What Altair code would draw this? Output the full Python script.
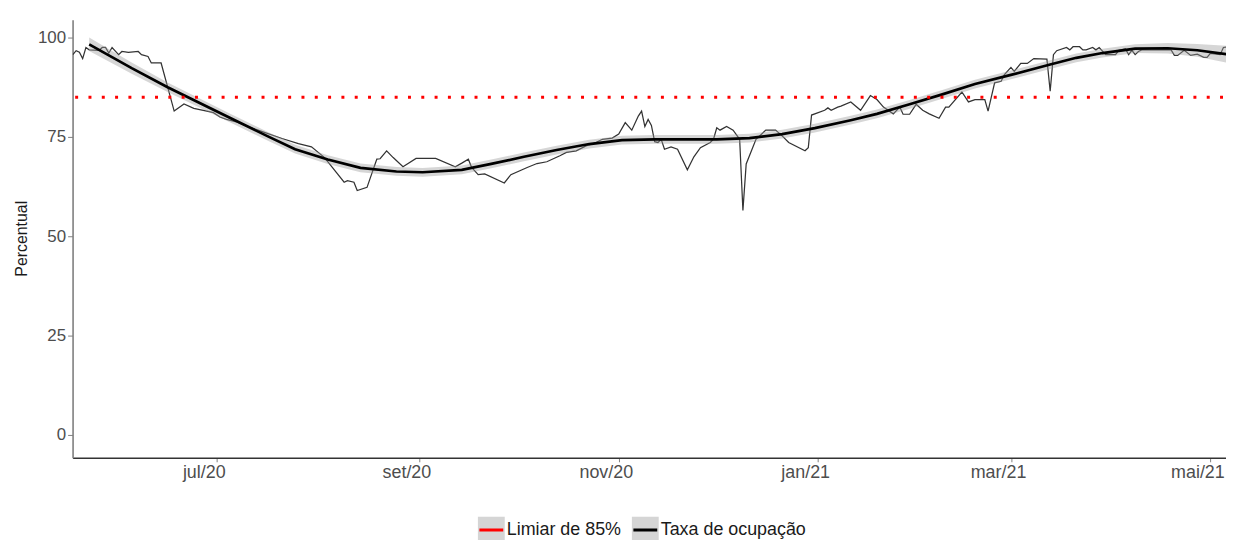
import altair as alt
import pandas as pd

# ---------------- data ----------------
month_names = ["jan", "fev", "mar", "abr", "mai", "jun", "jul", "ago", "set", "out", "nov", "dez"]
tick_dates = [(2020, 7), (2020, 9), (2020, 11), (2021, 1), (2021, 3), (2021, 5)]

raw_dates = [
    "2020-05-18", "2020-05-19", "2020-05-20", "2020-05-21", "2020-05-22", "2020-05-23",
    "2020-05-26", "2020-05-27", "2020-05-28", "2020-05-29", "2020-05-30", "2020-06-01",
    "2020-06-02", "2020-06-04", "2020-06-07", "2020-06-08", "2020-06-10", "2020-06-11",
    "2020-06-14", "2020-06-18", "2020-06-21", "2020-06-24", "2020-06-28", "2020-06-30",
    "2020-07-02", "2020-07-04", "2020-07-07", "2020-07-10", "2020-07-21", "2020-07-26",
    "2020-07-30", "2020-08-03", "2020-08-09", "2020-08-10", "2020-08-12", "2020-08-13",
    "2020-08-16", "2020-08-19", "2020-08-20", "2020-08-22", "2020-08-24", "2020-08-27",
    "2020-08-31", "2020-09-06", "2020-09-12", "2020-09-14", "2020-09-16", "2020-09-17",
    "2020-09-19", "2020-09-21", "2020-09-27", "2020-09-29", "2020-10-04", "2020-10-07",
    "2020-10-10", "2020-10-14", "2020-10-16", "2020-10-19", "2020-10-22", "2020-10-25",
    "2020-10-27", "2020-10-30", "2020-11-01", "2020-11-03", "2020-11-05", "2020-11-07",
    "2020-11-08", "2020-11-09", "2020-11-10", "2020-11-11", "2020-11-12", "2020-11-13",
    "2020-11-14", "2020-11-15", "2020-11-17", "2020-11-19", "2020-11-22", "2020-11-24",
    "2020-11-26", "2020-11-29", "2020-11-30", "2020-12-01", "2020-12-02", "2020-12-04",
    "2020-12-06", "2020-12-08", "2020-12-09", "2020-12-10", "2020-12-13", "2020-12-16",
    "2020-12-19", "2020-12-21", "2020-12-23", "2020-12-28", "2020-12-29", "2020-12-30",
    "2021-01-03", "2021-01-04", "2021-01-05", "2021-01-07", "2021-01-08", "2021-01-11",
    "2021-01-14", "2021-01-17", "2021-01-19", "2021-01-21", "2021-01-24", "2021-01-26",
    "2021-01-27", "2021-01-29", "2021-01-31", "2021-02-02", "2021-02-04", "2021-02-07",
    "2021-02-09", "2021-02-10", "2021-02-14", "2021-02-16", "2021-02-18", "2021-02-21",
    "2021-02-22", "2021-02-24", "2021-02-26", "2021-02-27", "2021-03-01", "2021-03-02",
    "2021-03-04", "2021-03-06", "2021-03-08", "2021-03-12", "2021-03-13", "2021-03-14",
    "2021-03-15", "2021-03-18", "2021-03-19", "2021-03-20", "2021-03-22", "2021-03-23",
    "2021-03-24", "2021-03-26", "2021-03-27", "2021-03-28", "2021-03-30", "2021-04-02",
    "2021-04-03", "2021-04-05", "2021-04-06", "2021-04-07", "2021-04-08", "2021-04-09",
    "2021-04-10", "2021-04-19", "2021-04-20", "2021-04-21", "2021-04-23", "2021-04-25",
    "2021-04-27", "2021-04-29", "2021-04-30", "2021-05-01", "2021-05-04", "2021-05-05",
    "2021-05-06",
]
raw_values = [
    95.7, 96.7, 96.3, 94.7, 97.5, 96.9,
    96.75, 97.5, 97.5, 96.1, 97.5, 95.7,
    96.5, 96.3, 96.5, 95.7, 95.25, 93.6,
    93.6, 81.5, 83.3, 82.2, 81.5, 81.1,
    80.0, 79.4, 78.8, 77.75, 74.6, 73.3,
    72.5, 69.8, 63.6, 64.0, 63.6, 61.5,
    62.3, 69.4, 69.5, 71.5, 69.8, 67.5,
    69.6, 69.6, 67.5, 68.4, 69.4, 67.3,
    65.5, 65.7, 63.4, 65.5, 67.3, 68.3,
    68.75, 70.25, 71.1, 71.5, 72.75, 73.6,
    74.4, 74.7, 75.7, 78.6, 76.7, 80.25,
    81.5, 77.6, 79.4, 77.9, 73.8, 73.6,
    74.4, 71.9, 72.5, 71.9, 66.7, 70.0,
    72.3, 73.6, 74.4, 77.3, 76.7, 77.6,
    76.7, 74.4, 56.5, 68.2, 74.4, 76.7,
    76.7, 75.25, 73.6, 71.5, 72.3, 80.5,
    81.7, 82.3, 81.7, 82.5, 82.75, 83.8,
    81.7, 85.4, 84.4, 82.5, 80.8, 82.5,
    80.7, 80.7, 83.2, 81.7, 80.8, 79.7,
    82.5, 82.5, 86.3, 83.8, 84.4, 84.4,
    81.5, 88.6, 89.0, 90.7, 92.5, 91.5,
    93.5, 93.5, 94.7, 94.6, 86.5, 95.7,
    96.7, 97.5, 96.9, 97.7, 97.7, 96.9,
    96.9, 97.5, 96.9, 97.5, 95.7, 95.7,
    96.8, 97.2, 95.7, 96.8, 95.7, 96.5,
    96.9, 96.9, 95.5, 95.5, 96.8, 95.5,
    95.8, 95.0, 95.0, 96.0, 95.7, 97.5,
    97.6,
]

smooth_dates = [
    "2020-05-23", "2020-06-05", "2020-06-16", "2020-07-05", "2020-07-17", "2020-07-25",
    "2020-08-04", "2020-08-14", "2020-08-25", "2020-09-02", "2020-09-14", "2020-09-23",
    "2020-10-03", "2020-10-13", "2020-10-23", "2020-11-02", "2020-11-12", "2020-11-21",
    "2020-12-01", "2020-12-11", "2020-12-21", "2020-12-31", "2021-01-11", "2021-01-19",
    "2021-01-29", "2021-02-08", "2021-02-18", "2021-03-01", "2021-03-13", "2021-03-21",
    "2021-03-29", "2021-04-08", "2021-04-18", "2021-04-27", "2021-05-06",
]
smooth_values = [
    98.3, 92.3, 87.5, 79.8, 75.0, 71.9,
    69.3, 67.2, 66.3, 66.1, 66.7, 68.2,
    70.0, 71.7, 73.2, 74.2, 74.4, 74.4,
    74.4, 74.7, 75.7, 77.2, 79.2, 80.8,
    83.2, 85.7, 88.3, 90.6, 93.2, 94.9,
    96.1, 97.2, 97.3, 96.8, 95.8,
]
smooth_se = [
    1.7, 1.4, 1.2, 1.1, 1.1, 1.1,
    1.1, 1.1, 1.1, 1.1, 1.1, 1.1,
    1.1, 1.1, 1.1, 1.1, 1.1, 1.1,
    1.1, 1.1, 1.1, 1.1, 1.1, 1.1,
    1.1, 1.1, 1.1, 1.1, 1.1, 1.1,
    1.1, 1.1, 1.3, 1.6, 2.1,
]

threshold_value = 85
series_names = ["Limiar de 85%", "Taxa de ocupação"]
series_codes = ["limiar", "taxa"]
series_colors = ["#ff0000", "#000000"]

# ---------------- tables ----------------
raw = pd.DataFrame({"data": raw_dates, "valor": raw_values})
smooth = pd.DataFrame({"data": smooth_dates, "valor": smooth_values, "se": smooth_se})
smooth["lo"] = smooth["valor"] - smooth["se"]
smooth["hi"] = smooth["valor"] + smooth["se"]
smooth["serie"] = series_codes[1]
smooth["faixa"] = series_names[1]
limiar = pd.DataFrame({"valor": [threshold_value], "serie": [series_codes[0]]})

FONT = "Liberation Sans"

x_scale = alt.Scale(
    type="utc",
    domain=[
        alt.DateTime(year=2020, month=5, date=17, hours=22, utc=True),
        alt.DateTime(year=2021, month=5, date=5, hours=19, utc=True),
    ],
)
label_expr = f"{month_names}[utcmonth(datum.value)] + '/' + utcFormat(datum.value, '%y')"
x_axis = alt.Axis(
    values=[alt.DateTime(year=y, month=m, date=1, utc=True) for y, m in tick_dates],
    labelExpr=label_expr,
    title=None,
    grid=False,
    domainColor="#333333",
    domainWidth=1.6,
    tickColor="#808080",
    tickSize=4,
    tickWidth=1,
    labelColor="#4d4d4d",
    labelFont=FONT,
    labelFontSize=18,
    labelPadding=2,
    labelOffset=-13,
)
y_scale = alt.Scale(domain=[-5.75, 104.5], nice=False, zero=False)
y_axis = alt.Axis(
    values=[0, 25, 50, 75, 100],
    title="Percentual",
    grid=False,
    domainColor="#7f7f7f",
    domainWidth=1.6,
    tickColor="#808080",
    tickSize=5,
    tickWidth=1,
    labelColor="#4d4d4d",
    labelFont=FONT,
    labelFontSize=17,
    labelPadding=2,
    titleFont=FONT,
    titleFontSize=16,
    titleFontWeight="normal",
    titleColor="#1a1a1a",
    titleAngle=-90,
    titleX=-51,
    titleY=220,
    titleAlign="center",
    titleBaseline="middle",
)

legend_common = dict(
    orient="none",
    legendX=408,
    legendY=500,
    direction="horizontal",
    title=None,
    padding=0,
    labelFont=FONT,
    labelFontSize=18,
    labelOffset=2,
    columnPadding=5,
    symbolSize=576,
    symbolStrokeWidth=3,
)
# grey key boxes with the visible labels
legend_boxes = alt.Legend(
    symbolType="square",
    symbolStrokeColor="#999999",
    symbolOpacity=0.4,
    labelColor="#1a1a1a",
    **legend_common,
)
# coloured key lines drawn over the boxes (labels same text, kept invisible)
code_to_name = " : ".join(
    f"datum.value == '{c}' ? '{n}'" for c, n in zip(series_codes, series_names)
) + " : datum.value"
legend_lines = alt.Legend(
    symbolType="stroke",
    symbolDash=[1, 0],
    symbolOpacity=1,
    labelOpacity=0,
    labelExpr=code_to_name,
    **legend_common,
)

X = alt.X("data:T", scale=x_scale, axis=x_axis)

raw_line = alt.Chart(raw).mark_line(color="#333333", strokeWidth=1.25, clip=True).encode(
    x=X, y=alt.Y("valor:Q", scale=y_scale, axis=y_axis)
)

band = alt.Chart(smooth).mark_area(opacity=0.4, clip=True).encode(
    x=X,
    y=alt.Y("lo:Q", scale=y_scale),
    y2="hi:Q",
    fill=alt.Fill(
        "faixa:N",
        scale=alt.Scale(domain=series_names, range=["#999999", "#999999"]),
        legend=legend_boxes,
    ),
)

stroke_scale = alt.Scale(domain=series_codes, range=series_colors)

smooth_line = alt.Chart(smooth).mark_line(strokeWidth=2.7, clip=True).encode(
    x=X,
    y=alt.Y("valor:Q", scale=y_scale),
    stroke=alt.Stroke("serie:N", scale=stroke_scale, legend=legend_lines),
)

limiar_rule = alt.Chart(limiar).mark_rule(
    strokeDash=[3, 10.4], strokeWidth=3, strokeDashOffset=-3, clip=True
).encode(
    y=alt.Y("valor:Q", scale=y_scale),
    stroke=alt.Stroke("serie:N", scale=stroke_scale, legend=legend_lines),
)

chart = (
    alt.layer(raw_line, band, smooth_line, limiar_rule)
    .resolve_scale(x="shared", y="shared")
    .properties(
        width=1161,
        height=441,
        autosize=alt.AutoSizeParams(type="none"),
        padding={"left": 65, "top": 10, "right": 0, "bottom": 81},
        background="white",
    )
    .configure_view(stroke=None)
)

chart.save("out.html", embed_options={"renderer": "svg", "actions": False})
